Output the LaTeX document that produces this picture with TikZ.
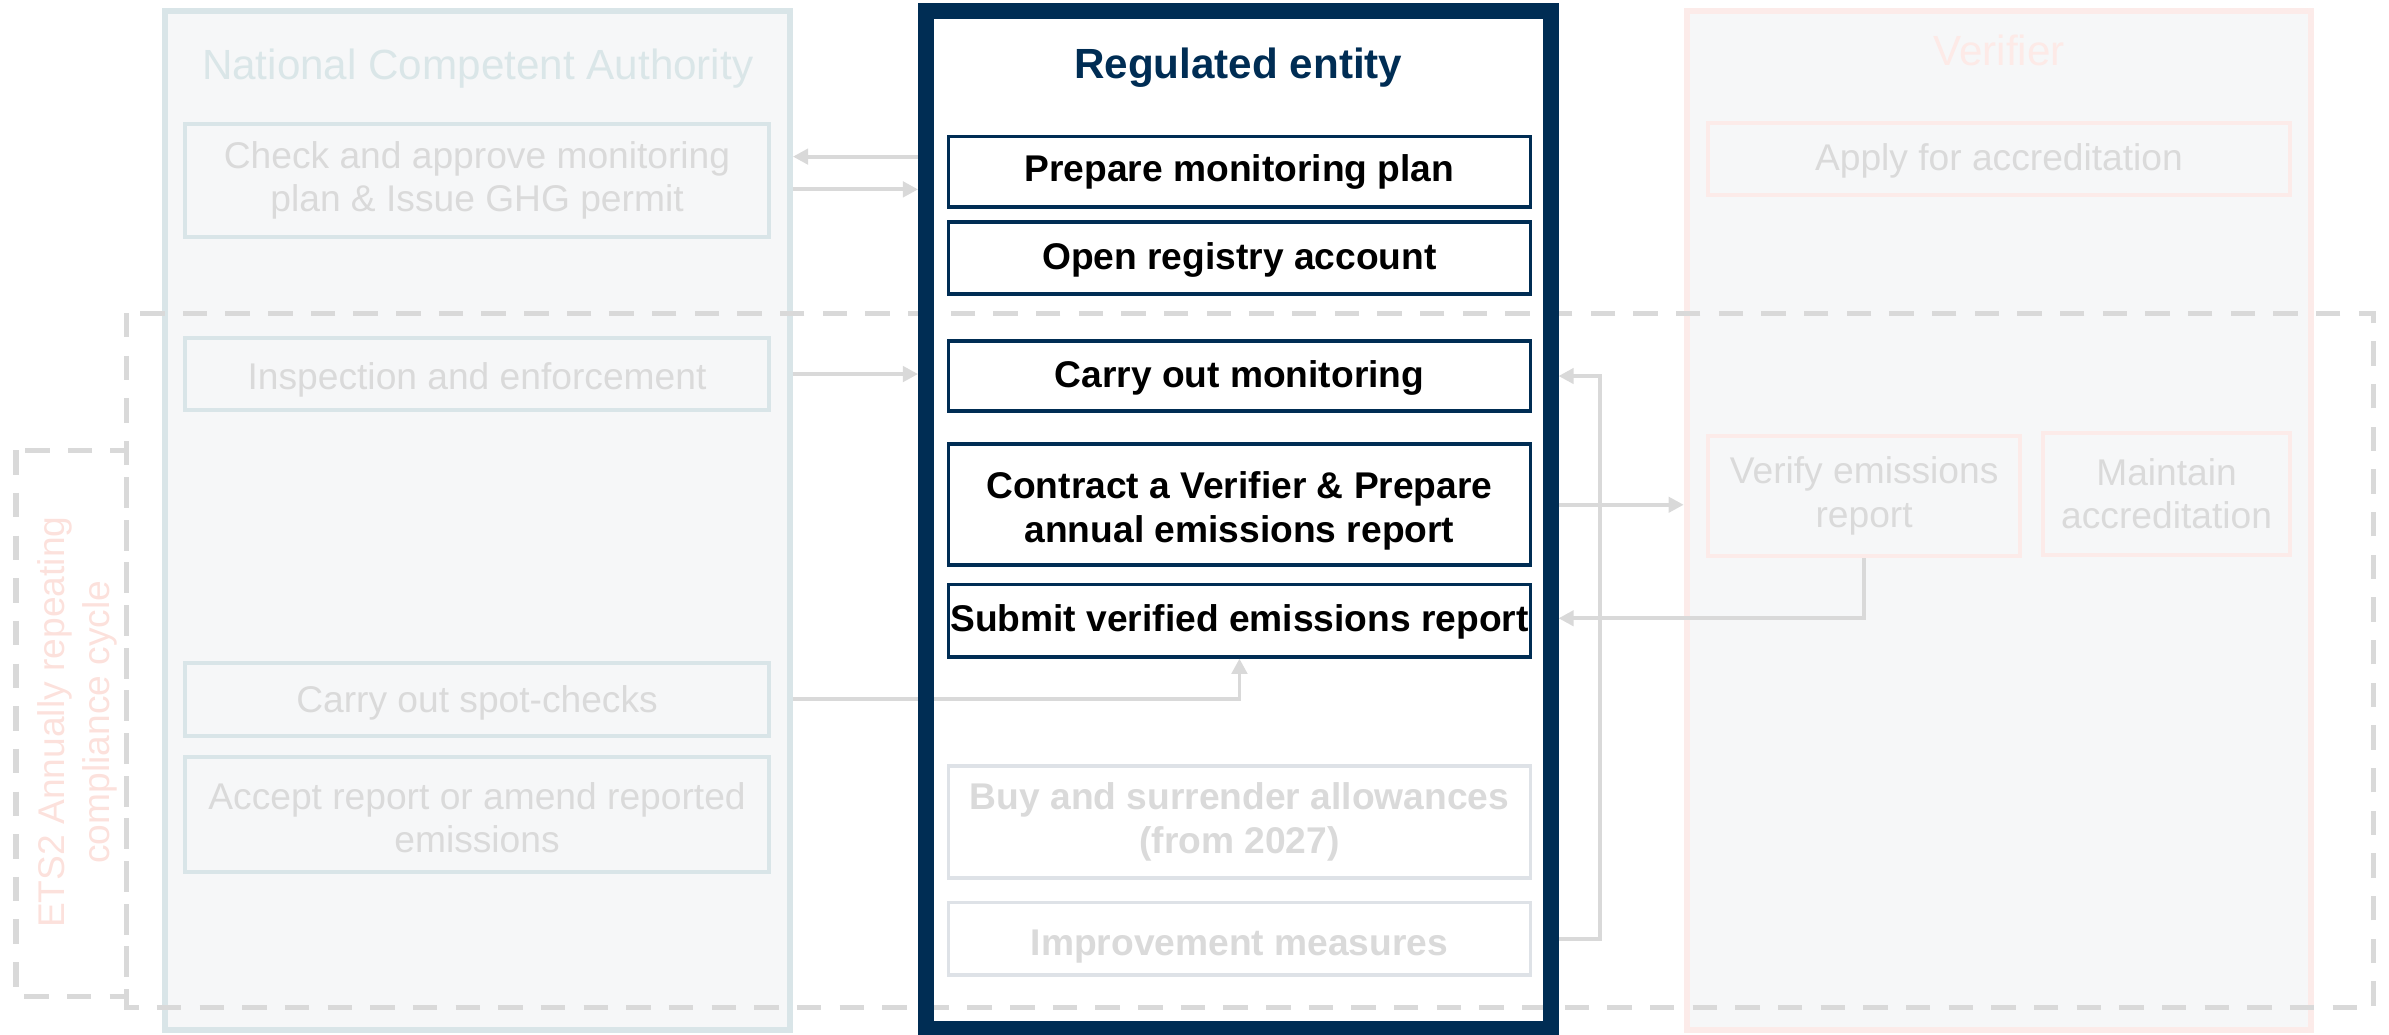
\documentclass[tikz,border=0pt]{standalone}
\usepackage{fontspec}
\setmainfont{Liberation Sans}
\usetikzlibrary{arrows.meta}
\definecolor{navy}{RGB}{0,45,84}
\definecolor{colbg}{RGB}{246,247,248}
\definecolor{ncaline}{RGB}{217,229,232}
\definecolor{ncatitle}{RGB}{218,230,232}
\definecolor{greytxt}{RGB}{218,218,218}
\definecolor{verline}{RGB}{252,235,233}
\definecolor{vertitle}{RGB}{253,234,231}
\definecolor{etscol}{RGB}{252,225,220}
\definecolor{dashcol}{RGB}{217,217,217}
\definecolor{conncol}{RGB}{217,217,217}
\definecolor{entgrayline}{RGB}{222,226,231}
\pgfdeclarelayer{bg}
\pgfdeclarelayer{mid}
\pgfsetlayers{bg,mid,main}
\newcommand{\fbody}{\fontsize{24.4pt}{28.5pt}\selectfont}
\newcommand{\ftitle}{\fontsize{27.7pt}{32pt}\selectfont}
\newcommand{\lift}[1]{\rule{0pt}{#1}}
\begin{document}
\begin{tikzpicture}[x=1pt,y=-1pt,
  column/.style={rectangle, minimum width=410pt, minimum height=669pt, fill=colbg, line width=3.8pt, inner sep=0pt},
  coltitle/.style={font=\ftitle, inner sep=0pt, anchor=base},
  ncabox/.style={rectangle, draw=ncaline, line width=2.6pt, text=greytxt, font=\fbody, align=center, minimum width=383.2pt, inner sep=0pt},
  verbox/.style={rectangle, draw=verline, line width=2.6pt, text=greytxt, font=\fbody, align=center, inner sep=0pt},
  entbox/.style={rectangle, draw=navy, line width=2.5pt, fill=white, text=black, font=\fbody\bfseries, align=center, minimum width=382pt, inner sep=0pt},
  entgray/.style={entbox, draw=entgrayline, text=greytxt},
  dashbox/.style={draw=dashcol, line width=3.3pt, dash pattern=on 16pt off 12pt},
  arr/.style={draw=conncol, line width=2.5pt, -{Triangle[length=10pt,width=10pt]}}
]
\useasboundingbox (0,0) rectangle (1568,679);

% columns
\begin{pgfonlayer}{bg}
\node[column, draw=ncaline] (nca) at (313.5,341.5) {};
\node[column, draw=verline] (ver) at (1312,341.5) {};
\end{pgfonlayer}

\node[rectangle, draw=navy, line width=10.3pt, minimum width=410pt, minimum height=668pt, inner sep=0pt] (ent) at (812.75,341) {};

% titles
\node[coltitle, text=ncatitle] (ncat) at (313.5,52.5) {National Competent Authority};
\node[coltitle, text=navy, font=\ftitle\bfseries] (entt) at (812.75,51.4) {Regulated entity};
\node[coltitle, text=vertitle] (vert) at (1312,42.7) {Verifier};

% NCA boxes
\node[ncabox, minimum height=74pt] (cap) at (313.1,118.4) {Check and approve monitoring\\plan \& Issue GHG permit};
\node[ncabox, minimum height=47pt] (ins) at (313.1,245.5) {\lift{25.8pt}Inspection and enforcement};
\node[ncabox, minimum height=48pt] (spot) at (313.1,459) {\lift{21.8pt}Carry out spot-checks};
\node[ncabox, minimum height=75.4pt] (acc) at (313.1,534.7) {\lift{21.8pt}Accept report or amend reported\\emissions};

% entity boxes
\node[entbox, minimum height=46.4pt] (pmp) at (813.5,112.8) {Prepare monitoring plan};
\node[entbox, minimum height=47pt] (ora) at (813.5,169.3) {\lift{19.8pt}Open registry account};
\node[entbox, minimum height=46.4pt] (com) at (813.5,246.8) {\lift{19.8pt}Carry out monitoring};
\node[entbox, minimum height=79.5pt] (con) at (813.5,331.3) {\lift{25.8pt}Contract a Verifier \& Prepare\\annual emissions report};
\node[entbox, minimum height=47.4pt] (sub) at (813.5,407.3) {\lift{19.8pt}Submit verified emissions report};
\node[entgray, minimum height=73pt] (buy) at (813.5,539.5) {Buy and surrender allowances\\(from 2027)};
\node[entgray, minimum height=47.7pt] (imp) at (813.5,616.2) {\lift{27pt}Improvement measures};

% verifier boxes
\node[verbox, minimum width=382pt, minimum height=47pt] (app) at (1312,104.5) {\lift{19.8pt}Apply for accreditation};
\node[verbox, minimum width=205pt, minimum height=79pt] (vrep) at (1223.5,325.5) {Verify emissions\\report};
\node[verbox, minimum width=162pt, minimum height=80pt] (mac) at (1422,324.2) {Maintain\\accreditation};

% cycle label
\node[font=\fontsize{24.4pt}{29.5pt}\selectfont, text=etscol, align=center, rotate=90, inner sep=0pt] (ets) at (51,474) {ETS2 Annually repeating\\compliance cycle};

\begin{pgfonlayer}{mid}
\draw[dashbox] (83,205.5) rectangle (1557.5,661.5);
\draw[dashbox] (10.5,295.5) rectangle (83,654);
\coordinate (y1) at (0,102.8);
\coordinate (y2) at (0,124.3);
\coordinate (xloop) at (1050,0);
\coordinate (yver) at (0,405.8);
\draw[arr] (ent.west |- y1) -- (nca.east |- y1);
\draw[arr] (nca.east |- y2) -- (ent.west |- y2);
\draw[arr] (nca.east |- ins) -- (ent.west |- ins);
\draw[arr] (nca.east |- spot) -- (sub.south |- spot) -- (sub.south);
\draw[arr] (ent.east |- imp) -- (xloop |- imp) -- (xloop |- com) -- (ent.east |- com);
\draw[arr] (ent.east |- con) -- (ver.west |- con);
\draw[arr] (vrep.south) -- (vrep.south |- yver) -- (ent.east |- yver);
\end{pgfonlayer}
\end{tikzpicture}
\end{document}
